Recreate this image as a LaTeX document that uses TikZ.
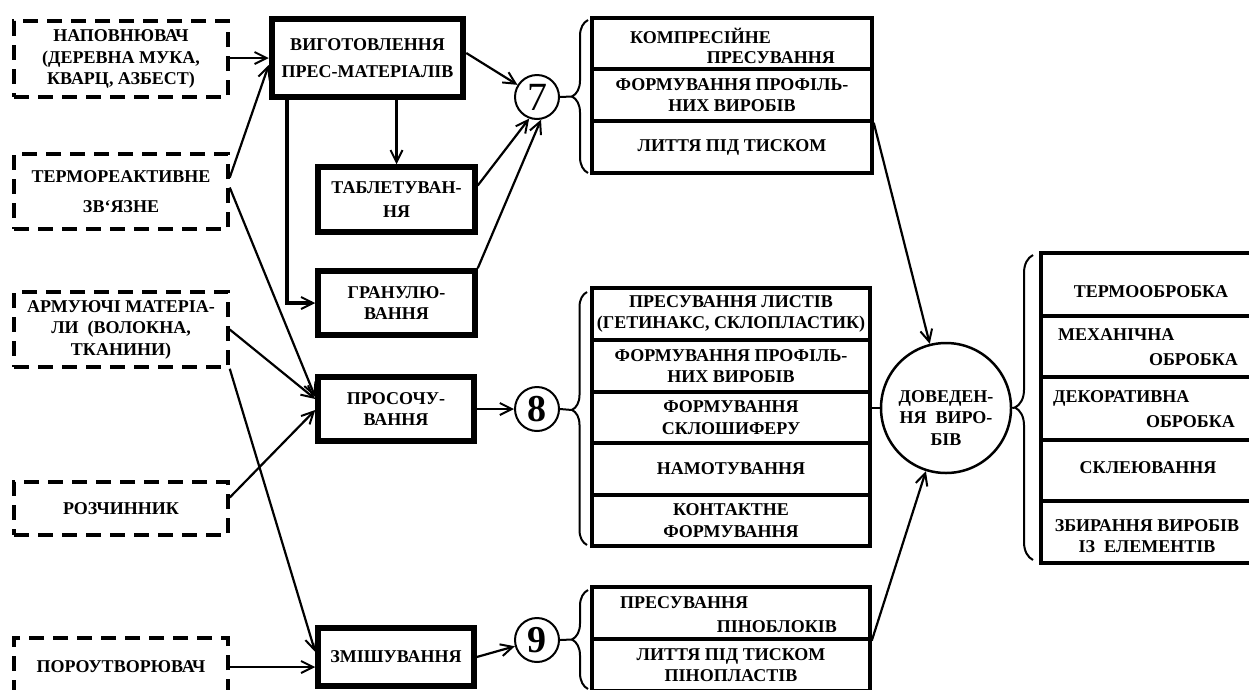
\documentclass[tikz,border=0pt]{standalone}
\usepackage{fontspec}
\setmainfont{Liberation Serif}
\usetikzlibrary{arrows.meta,decorations.pathreplacing,calc}
\begin{document}
\begin{tikzpicture}[x=1pt,y=-1pt,font=\fontsize{18}{21.5}\selectfont\bfseries]
\tikzset{
 dbox/.style={draw, line width=3.5pt, dash pattern=on 15pt off 9pt, minimum width=214pt, inner sep=0pt, align=center},
 tbox/.style={draw, line width=5.5pt, inner sep=0pt, align=center},
 rowbox/.style={draw, line width=3.5pt, inner sep=0pt, align=center},
 num/.style={draw, circle, line width=2pt, minimum size=44pt, inner sep=0pt},
 arr/.style={line width=2.2pt, -{Straight Barb[length=12pt,width=12pt,line width=2pt]}},
 brc/.style={decorate, line width=2pt, decoration={brace, amplitude=16pt}},
 txt/.style={inner sep=0pt}
}
\useasboundingbox (0,0) rectangle (1249,689);
\clip (0,0) rectangle (1249,689);
\fill[white] (0,0) rectangle (1249,689);

% left dashed inputs
\node[dbox, minimum height=76pt] (nap) at (121,59) {НАПОВНЮВАЧ\\(ДЕРЕВНА МУКА,\\КВАРЦ, АЗБЕСТ)};
\node[dbox, minimum height=75pt] (term) at (121,191.5) {ТЕРМОРЕАКТИВНЕ\\[8pt]ЗВ‘ЯЗНЕ};
\node[dbox, minimum height=75pt] (arm) at (121,329.5) {АРМУЮЧІ МАТЕРІА-\\ЛИ\ \ (ВОЛОКНА,\\ТКАНИНИ)};
\node[dbox, minimum height=53pt] (roz) at (121,508.5) {РОЗЧИННИК};
\node[dbox, minimum height=58pt] (por) at (121,667) {ПОРОУТВОРЮВАЧ};

% process boxes
\node[tbox, line width=6.5pt, minimum width=191pt, minimum height=78pt] (vyg) at (367.5,58) {ВИГОТОВЛЕННЯ\\[6pt]ПРЕС-МАТЕРІАЛІВ};
\node[tbox, minimum width=157pt, minimum height=65pt] (tab) at (396.5,199.5) {ТАБЛЕТУВАН-\\[3pt]НЯ};
\node[tbox, minimum width=157pt, minimum height=64pt] (gran) at (396.5,303) {ГРАНУЛЮ-\\ВАННЯ};
\node[tbox, minimum width=156pt, minimum height=64pt] (pros) at (396,409) {ПРОСОЧУ-\\ВАННЯ};
\node[tbox, minimum width=156pt, minimum height=58pt] (zmi) at (396,657) {ЗМІШУВАННЯ};

% numbered circles
\node[num, font=\fontsize{40}{40}\selectfont\mdseries] (c7) at (537,97) {7};
\node[num, font=\fontsize{38}{38}\selectfont\bfseries] (c8) at (537,409) {8};
\node[num, font=\fontsize{38}{38}\selectfont\bfseries] (c9) at (537,640) {9};

% group 7
\node[rowbox, minimum width=280pt, minimum height=51pt] (g7a) at (732,43.5) {};
\node[txt, anchor=base west] (g7a1) at (630,43) {КОМПРЕСІЙНЕ};
\node[txt, anchor=base east] (g7a2) at (835,63) {ПРЕСУВАННЯ};
\node[rowbox, minimum width=280pt, minimum height=52pt] (g7b) at (732,95) {ФОРМУВАННЯ ПРОФІЛЬ-\\НИХ ВИРОБІВ};
\node[rowbox, minimum width=280pt, minimum height=52pt] (g7c) at (732,147) {ЛИТТЯ ПІД ТИСКОМ};

% group 8
\node[rowbox, minimum width=278pt, minimum height=52pt] (g8a) at (731,314) {ПРЕСУВАННЯ ЛИСТІВ\\(ГЕТИНАКС, СКЛОПЛАСТИК)};
\node[rowbox, minimum width=278pt, minimum height=52pt] (g8b) at (731,366) {ФОРМУВАННЯ ПРОФІЛЬ-\\НИХ ВИРОБІВ};
\node[rowbox, minimum width=278pt, minimum height=51pt] (g8c) at (731,417.5) {ФОРМУВАННЯ\\СКЛОШИФЕРУ};
\node[rowbox, minimum width=278pt, minimum height=52pt] (g8d) at (731,469) {НАМОТУВАННЯ};
\node[rowbox, minimum width=278pt, minimum height=51pt] (g8e) at (731,520.5) {КОНТАКТНЕ\\ФОРМУВАННЯ};

% group 9
\node[rowbox, minimum width=278pt, minimum height=52pt] (g9a) at (731,613) {};
\node[txt, anchor=base west] (g9a1) at (620,608) {ПРЕСУВАННЯ};
\node[txt, anchor=base east] (g9a2) at (837,632) {ПІНОБЛОКІВ};
\node[rowbox, minimum width=278pt, minimum height=52pt] (g9b) at (731,665) {ЛИТТЯ ПІД ТИСКОМ\\ПІНОПЛАСТІВ};

% final circle
\node[draw, circle, line width=2.5pt, minimum size=130pt, inner sep=0pt] (dov) at (946,408) {};
\node[txt, align=center] (dovt) at (946,418) {ДОВЕДЕН-\\НЯ\ \ ВИРО-\\БІВ};

% final group
\node[rowbox, minimum width=221pt, minimum height=63pt] (fa) at (1151.5,284.5) {};
\node[txt] (fa1) at (1151,292) {ТЕРМООБРОБКА};
\node[rowbox, minimum width=221pt, minimum height=61pt] (fb) at (1151.5,346.5) {};
\node[txt, anchor=base west] (fb1) at (1058,340) {МЕХАНІЧНА};
\node[txt, anchor=base east] (fb2) at (1238,365) {ОБРОБКА};
\node[rowbox, minimum width=221pt, minimum height=63pt] (fc) at (1151.5,408.5) {};
\node[txt, anchor=base west] (fc1) at (1053,402) {ДЕКОРАТИВНА};
\node[txt, anchor=base east] (fc2) at (1235,427) {ОБРОБКА};
\node[rowbox, minimum width=221pt, minimum height=61pt] (fd) at (1151.5,470.5) {};
\node[txt] (fd1) at (1148,468) {СКЛЕЮВАННЯ};
\node[rowbox, minimum width=221pt, minimum height=62pt] (fe) at (1151.5,532) {};
\node[txt, align=center] (fe1) at (1147,536) {ЗБИРАННЯ ВИРОБІВ\\ІЗ\ \ ЕЛЕМЕНТІВ};

% braces
\draw[brc] (588,173) -- (588,20);
\coordinate (b7) at (572,96.5);
\draw[brc, decoration={brace, amplitude=15pt, aspect=0.534}] (587,545) -- (587,292);
\coordinate (b8) at (572,410);
\draw[brc] (588,689) -- (588,590);
\coordinate (b9) at (572,639.5);
\draw[brc, decoration={brace, amplitude=18pt}] (1033,560) -- (1033,255);
\coordinate (bf) at (1015,407.5);

\draw[line width=2pt] (c7.east) -- (b7);
\draw[line width=2pt] (c8.east) -- (b8);
\draw[line width=2pt] (c9.east) -- (b9);
\draw[line width=2pt] (dov.east) -- (bf);

% connectors
\draw[arr] (nap.east |- vyg.west) -- (vyg.west);
\draw[arr] ($(term.east)+(0,-14)$) -- ($(vyg.west)+(0,7)$);
\draw[arr] ($(term.east)+(0,-4)$) -- ($(pros.west)+(0,-12)$);
\draw[arr] (arm.east) -- ($(pros.west)+(0,-10)$);
\draw[arr] ($(roz.east)+(0,-11)$) -- ($(pros.west)+(0,1)$);
\draw[arr] (arm.south east) -- ($(zmi.west)+(0,-5)$);
\draw[arr] (por.east) -- (zmi.west |- por.east);
\draw[arr, line width=3pt] (tab.north |- vyg.south) -- (tab.north);
\draw[arr, line width=3.5pt] ($(vyg.south west)+(18,0)$) |- (gran.west);
\draw[arr] ($(vyg.east)+(0,-5)$) -- (c7);
\draw[arr] ($(tab.east)+(0,-14)$) -- (c7.-110);
\draw[arr] (gran.north east) -- (c7.-80);
\draw[arr] (pros.east) -- (c8.west);
\draw[arr] (zmi.east) -- (c9);
\draw[arr] (g7b.south east) -- (dov);
\draw[arr] (g9a.south east) -- (dov);
\draw[line width=2.2pt] (dov.west -| g8c.east) -- (dov.west);
\end{tikzpicture}
\end{document}
